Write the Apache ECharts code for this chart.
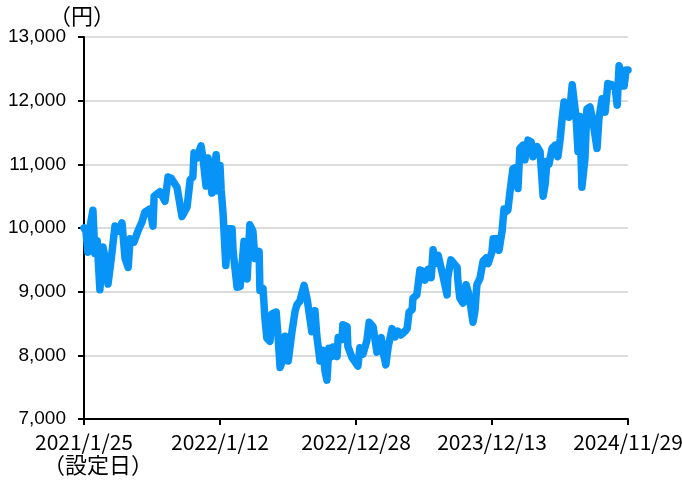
<!DOCTYPE html>
<html><head><meta charset="utf-8">
<script src="https://cdn.jsdelivr.net/npm/echarts@6/dist/echarts.min.js"></script>
<style>html,body{margin:0;padding:0;background:#fff}#c{width:682px;height:481px}</style>
</head><body><div id="c"></div>
<script>
// days since launch (2021/1/25)
const daysSinceLaunch = [0,5,10,15,23,28,34,41,49,54,62,70,80,88,98,106,114,119,129,139,150,157,170,178,181,196,209,217,225,240,253,266,274,
281,284,292,302,307,315,320,330,341,346,351,354,359,366,372,382,385,395,403,408,413,421,428,436,441,452,454,462,467,472,480,485,496,501,506,514,519,527,537,545,
550,557,568,576,581,588,596,601,609,617,622,627,632,640,643,653,656,666,668,679,681,692,699,707,712,720,730,736,746,756,767,772,779,785,795,803,810,
818,829,834,839,847,849,859,867,875,880,888,896,901,906,914,919,927,937,939,947,952,963,965,970,978,986,991,996,1004,1009,1014,1022,1030,1038,1043,1053,1056,1066,1071,1079,1084,
1087,1094,1100,1107,1115,1120,1125,1133,1138,1146,1154,1159,1169,1177,1185,1190,1195,1200,1208,1216,1223,1229,1234,1239,1247,1252,1260,1265,1270,1275,1280,1285,1293,1298,1306,1314,1324,1329,1337,1345,1352,1363,1371,1376,1381,1386,1394,1399,1404];
// base price (円)
const basePrice = [10000,9950,9620,10000,10280,9600,9800,9030,9700,9550,9120,9500,10030,9950,10080,9520,9380,9830,9780,9950,10100,10250,10300,10030,10500,10570,10420,10800,10780,10640,10180,10330,10760,
10800,11180,11100,11290,11100,10660,11100,10550,11150,10580,10980,10600,10220,9410,9990,9990,9620,9070,9080,9070,9790,9200,10050,9950,9520,9630,9020,9050,8580,8270,8220,8650,8680,8280,7810,7950,8300,7910,8380,8700,
8800,8850,9100,8880,8880,8370,8700,8300,7910,8080,7750,7610,8110,7980,8130,7980,8280,8250,8480,8450,8140,7960,7900,7830,8120,8020,8230,8520,8450,8050,8280,8050,7850,8130,8420,8290,8380,
8320,8380,8420,8680,8720,8900,8950,9340,9320,9180,9350,9220,9660,9440,9570,9580,9230,8950,9230,9500,9500,9380,9170,8900,8820,9110,9010,8850,8520,8700,9110,9210,9480,9530,9440,9630,9830,9830,9650,9950,10300,
10250,10280,10600,10930,10950,10620,11250,11300,11070,11380,11350,11120,11280,11200,10500,10680,11050,11000,11250,11300,11120,11400,11720,11980,11930,11740,12250,11990,11740,11200,11750,10640,11100,11870,11900,11650,11250,11720,12030,11820,12270,12250,12190,11930,12550,12520,12230,12480,12480];
const tickLabels = ['2021/1/25','2022/1/12','2022/12/28','2023/12/13','2024/11/29'];
const yMin = 7000, yMax = 13000, yStep = 1000;

const chart = echarts.init(document.getElementById('c'), null, {renderer:'canvas'});
const pts = daysSinceLaunch.map((d,i)=>[d, basePrice[i]]);
chart.setOption({
  animation:false,
  backgroundColor:'#fff',
  grid:{left:84,right:54,top:37,bottom:62,containLabel:false,outerBoundsMode:'none'},
  xAxis:{type:'value',min:0,max:1404,interval:351,
    axisLine:{show:true,lineStyle:{color:'#000',width:2}},
    axisTick:{show:true,length:6,lineStyle:{color:'#000',width:2}},
    splitLine:{show:false},
    axisLabel:{show:true,margin:13,color:'#000',fontSize:21,fontFamily:'"Noto Sans CJK JP",sans-serif',
      showMinLabel:true,showMaxLabel:true,hideOverlap:false,
      formatter:v=>tickLabels[Math.round(v/351)]||''}
  },
  yAxis:{type:'value',min:yMin,max:yMax,interval:yStep,
    axisLine:{show:true,lineStyle:{color:'#000',width:2}},
    axisTick:{show:true,length:6,lineStyle:{color:'#000',width:2}},
    splitLine:{show:true,lineStyle:{color:'#d0d0d0',width:1.5}},
    axisLabel:{margin:18,color:'#000',fontSize:19,fontFamily:'"Liberation Sans",Arial,sans-serif',
      formatter:v=>v.toLocaleString('en-US')}
  },
  graphic:[
    {type:'text',left:49,top:5,style:{text:'（円）',fontSize:22,fill:'#000',fontFamily:'"Noto Sans CJK JP",sans-serif'}},
    {type:'text',left:43,top:454,style:{text:'（設定日）',fontSize:22,fill:'#000',fontFamily:'"Noto Sans CJK JP",sans-serif'}}
  ],
  series:[{type:'line',data:pts,showSymbol:false,symbol:'none',clip:false,
    lineStyle:{color:'#0893f7',width:7.5,cap:'round',join:'round'}}]
});
</script></body></html>
